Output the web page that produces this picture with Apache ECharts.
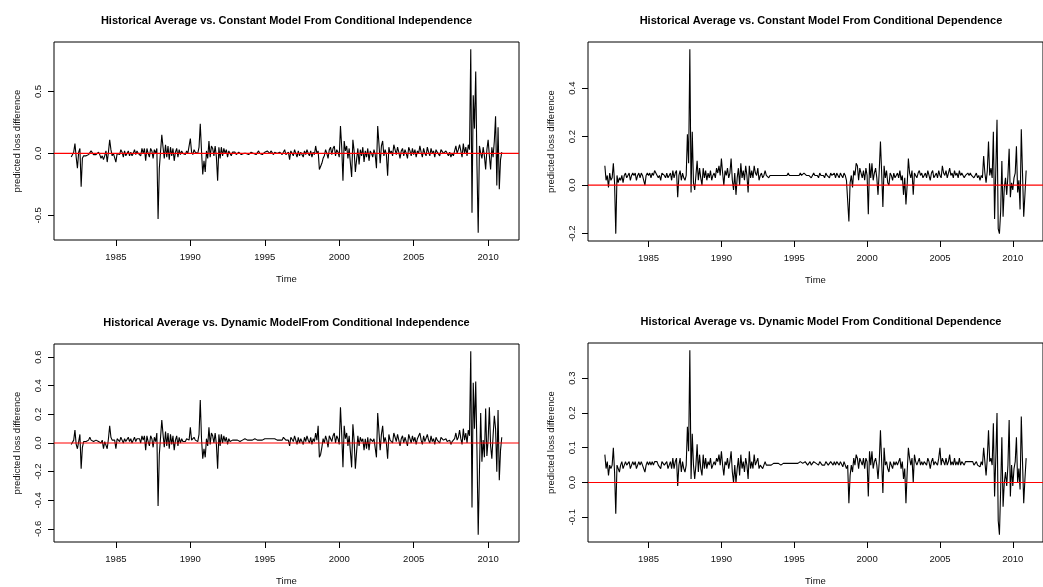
<!DOCTYPE html>
<html>
<head>
<meta charset="utf-8">
<script src="https://cdn.jsdelivr.net/npm/echarts@6/dist/echarts.min.js"></script>
<style>
html,body{margin:0;padding:0;background:#fff;}
#chart{width:1043px;height:587px;}
</style>
</head>
<body>
<div id="chart"></div>
<script>
// Monthly series, Jan 1982 .. Dec 2010 (one row per year)
const startYear = 1982;
const titles = [
  "Historical Average vs. Constant Model From Conditional Independence",
  "Historical Average vs. Constant Model From Conditional Dependence",
  "Historical Average vs. Dynamic ModelFrom Conditional Independence",
  "Historical Average vs. Dynamic Model From Conditional Dependence"
];
const xTicks = [1985, 1990, 1995, 2000, 2005, 2010];
const yTicks1 = [-0.5, 0, 0.5];
const yTicks2 = [-0.2, 0, 0.2, 0.4];
const yTicks3 = [-0.6, -0.4, -0.2, 0, 0.2, 0.4, 0.6];
const yTicks4 = [-0.1, 0, 0.1, 0.2, 0.3];
const refLevel = 0;
const xName = "Time";
const yName = "predicted loss difference";

const constIndep = [
  -0.03,-0.04,0.01,0.08,-0.03,-0.12,0.01,0.04,-0.27,-0.04,-0.02,-0.03,
  -0.02,-0.02,-0.01,0.00,0.02,0.03,-0.01,0.00,-0.01,-0.02,0.01,-0.01,
  -0.04,-0.02,-0.05,-0.02,0.02,-0.07,0.01,0.11,0.03,-0.02,0.00,-0.01,
  -0.07,0.00,0.01,-0.01,0.03,0.01,-0.03,0.02,-0.02,0.00,0.02,-0.02,
  0.01,-0.02,0.00,0.03,-0.01,0.02,0.00,0.01,-0.02,0.04,0.00,0.04,
  -0.06,0.04,0.00,-0.03,0.04,0.02,-0.04,0.03,0.00,0.04,-0.53,-0.12,
  -0.12,0.15,0.05,-0.04,0.07,-0.03,0.06,-0.05,0.05,-0.02,0.04,-0.06,
  0.01,0.04,-0.03,0.03,-0.01,0.02,0.00,0.01,-0.01,0.02,0.00,0.01,
  0.12,0.01,-0.01,0.03,0.01,0.02,0.00,0.05,0.24,0.02,-0.17,-0.06,
  -0.15,0.02,-0.04,0.10,-0.03,0.06,0.04,-0.02,0.06,-0.03,-0.22,0.05,
  -0.04,0.05,-0.02,0.04,0.00,0.03,-0.03,0.02,0.00,-0.02,0.01,0.00,
  0.01,-0.01,0.00,0.01,0.00,-0.01,0.00,0.00,0.01,0.00,0.00,-0.01,
  0.00,0.01,0.00,0.00,0.01,-0.01,0.00,0.02,0.00,0.00,-0.01,0.00,
  0.01,0.00,0.02,0.01,0.00,0.02,0.01,-0.01,0.01,0.02,0.00,-0.01,
  0.01,0.02,-0.01,0.00,0.03,-0.01,-0.01,0.01,-0.05,0.02,0.03,-0.02,
  0.03,0.00,-0.03,0.02,-0.02,0.01,0.00,-0.03,0.02,-0.01,0.03,0.00,
  -0.02,0.02,-0.03,0.01,-0.01,0.06,0.00,0.02,-0.13,-0.12,-0.08,-0.04,
  -0.02,0.03,0.00,-0.04,0.03,0.05,-0.01,0.04,0.06,-0.02,0.03,0.01,
  -0.03,0.22,0.05,-0.22,0.10,0.02,0.06,-0.04,0.04,-0.08,-0.19,0.11,
  0.02,-0.15,-0.05,0.04,-0.09,0.03,-0.02,0.05,-0.07,0.02,-0.03,0.04,
  -0.06,0.02,0.00,-0.03,0.03,-0.01,-0.12,0.22,0.08,-0.08,0.06,0.10,
  -0.02,0.03,-0.01,-0.18,0.05,0.00,0.02,-0.02,0.07,0.03,-0.01,0.05,
  0.01,-0.04,0.02,0.04,-0.02,0.03,0.00,-0.04,0.05,0.02,-0.02,0.04,
  -0.01,0.03,-0.03,0.02,0.00,0.06,0.01,-0.03,0.04,0.00,-0.02,0.05,
  0.01,-0.02,0.04,0.00,0.02,-0.03,0.03,0.01,0.00,-0.02,0.03,0.04,
  0.00,-0.01,0.02,0.00,-0.02,0.01,-0.03,0.00,-0.02,0.02,0.06,0.00,
  0.03,0.07,0.02,-0.03,0.08,0.00,0.05,-0.02,0.07,0.03,0.84,-0.48,
  0.47,0.20,0.66,-0.10,-0.64,0.06,0.00,-0.04,0.05,-0.02,-0.13,0.03,
  0.11,-0.02,-0.13,0.05,-0.03,0.10,0.30,-0.26,0.21,-0.29,-0.05,0.01
];

const constDep = [
  0.08,0.02,0.04,-0.01,0.05,0.02,0.03,0.09,0.01,-0.20,0.04,0.01,
  0.03,0.02,0.04,0.01,0.04,0.05,0.03,0.04,0.05,0.02,0.04,0.05,
  0.04,0.05,0.02,0.04,0.05,0.03,0.05,0.04,0.02,0.00,0.04,0.05,
  0.04,0.05,0.03,0.05,0.04,0.06,0.05,0.05,0.03,0.04,0.02,0.05,
  0.05,0.04,0.03,0.05,0.03,0.04,0.05,0.02,0.06,0.03,0.05,0.06,
  -0.05,0.04,0.06,0.02,0.05,0.03,0.02,0.04,0.21,0.09,0.56,-0.03,
  0.22,0.01,-0.02,0.04,0.10,0.02,0.07,0.03,0.00,0.07,0.03,0.06,
  0.02,0.05,0.03,0.06,0.02,0.04,0.05,0.03,0.07,0.05,0.08,0.04,
  0.11,0.05,0.00,0.06,0.04,0.07,0.03,0.05,0.11,0.02,-0.02,0.05,
  -0.04,0.03,0.07,0.00,0.09,0.03,0.06,0.02,0.08,0.04,-0.03,0.08,
  0.03,0.06,0.03,0.08,0.05,0.04,0.07,0.02,0.04,0.05,0.03,0.04,
  0.06,0.04,0.04,0.03,0.04,0.04,0.04,0.04,0.04,0.04,0.04,0.04,
  0.04,0.04,0.04,0.04,0.04,0.04,0.04,0.05,0.04,0.04,0.04,0.04,
  0.04,0.04,0.04,0.04,0.04,0.05,0.04,0.04,0.05,0.05,0.04,0.04,
  0.04,0.04,0.03,0.04,0.05,0.04,0.04,0.04,0.03,0.05,0.04,0.04,
  0.04,0.03,0.05,0.04,0.04,0.03,0.05,0.04,0.04,0.05,0.03,0.05,
  0.04,0.03,0.05,0.04,0.03,0.05,0.04,0.02,0.02,-0.15,0.01,0.04,
  -0.01,0.06,0.04,0.09,0.08,0.02,0.07,0.05,0.03,0.06,0.02,0.07,
  0.04,-0.12,0.09,0.03,0.09,0.02,0.05,0.07,0.03,-0.04,0.06,0.18,
  0.05,-0.09,0.08,0.03,0.06,0.01,0.00,0.05,0.04,0.02,0.05,0.03,
  0.04,0.05,0.03,0.06,0.02,0.04,-0.04,0.03,-0.08,0.00,0.11,0.05,
  0.03,0.06,-0.04,0.05,0.04,0.03,0.05,0.06,0.04,0.05,0.03,0.04,
  0.05,0.03,0.06,0.04,0.02,0.05,0.06,0.03,0.04,0.05,0.03,0.06,
  0.04,0.03,0.08,0.05,0.04,0.06,0.03,0.05,0.07,0.04,0.05,0.03,
  0.06,0.04,0.05,0.03,0.06,0.04,0.05,0.04,0.03,0.04,0.04,0.05,
  0.04,0.05,0.04,0.04,0.03,0.04,0.05,0.03,0.04,0.02,0.04,0.03,
  0.12,0.05,0.01,0.06,0.18,0.04,0.07,0.03,0.22,-0.14,0.06,0.27,
  -0.18,-0.20,-0.11,0.10,-0.13,-0.01,0.03,-0.04,0.04,0.15,-0.05,0.01,
  -0.02,0.03,0.05,0.16,-0.03,0.02,-0.10,0.23,0.05,-0.13,-0.04,0.06
];

const dynIndep = [
  -0.01,-0.02,0.02,0.09,-0.01,-0.04,0.01,0.06,-0.18,-0.03,0.01,0.00,
  0.01,0.00,0.02,0.04,0.02,0.02,0.01,0.00,0.02,0.03,0.01,0.02,
  0.00,0.02,-0.04,0.01,0.02,-0.04,0.03,0.12,0.04,0.02,0.01,0.02,
  -0.04,0.03,0.02,0.01,0.04,0.02,0.00,0.03,0.01,0.02,0.04,0.01,
  0.03,0.00,0.02,0.04,0.01,0.03,0.02,0.03,0.00,0.05,0.02,0.05,
  -0.05,0.05,0.01,-0.02,0.05,0.03,-0.03,0.04,0.01,0.07,-0.44,-0.08,
  -0.07,0.16,0.06,-0.03,0.08,-0.02,0.07,-0.04,0.06,-0.01,0.05,-0.05,
  0.02,0.05,-0.02,0.04,0.00,0.03,0.01,0.02,0.01,0.03,0.02,0.02,
  0.11,0.02,0.01,0.04,0.02,0.03,0.01,0.06,0.30,0.03,-0.11,-0.04,
  -0.10,0.03,-0.02,0.11,-0.01,0.07,0.05,0.00,0.07,-0.01,-0.18,0.06,
  -0.02,0.06,0.00,0.05,0.01,0.04,-0.01,0.03,0.01,0.00,0.02,0.01,
  0.02,0.01,0.02,0.02,0.01,0.02,0.02,0.02,0.03,0.02,0.02,0.02,
  0.02,0.02,0.02,0.02,0.03,0.02,0.02,0.02,0.02,0.02,0.02,0.02,
  0.03,0.02,0.03,0.02,0.03,0.04,0.03,0.02,0.03,0.04,0.02,0.03,
  0.02,0.03,0.02,0.04,0.03,0.02,0.01,0.02,-0.02,0.04,0.05,0.01,
  0.05,0.02,-0.01,0.04,0.00,0.03,0.02,-0.01,0.04,0.01,0.05,0.02,
  0.00,0.04,-0.01,0.03,0.01,0.07,0.02,0.12,-0.10,-0.08,-0.03,0.03,
  0.00,0.05,0.02,-0.03,0.05,0.06,0.01,0.05,0.07,0.00,0.05,0.03,
  -0.01,0.25,0.06,-0.17,0.12,0.03,0.07,-0.02,0.05,-0.06,-0.17,0.13,
  0.02,-0.18,-0.06,0.05,-0.02,0.04,0.01,0.03,-0.05,0.03,-0.04,0.04,
  -0.05,0.03,0.02,0.01,0.03,0.02,-0.10,0.21,0.08,-0.05,0.06,0.12,
  0.00,0.04,0.00,-0.11,0.06,0.02,0.03,0.00,0.07,0.04,0.01,0.06,
  0.02,-0.02,0.03,0.05,0.00,0.04,0.01,-0.02,0.06,0.03,0.00,0.05,
  0.01,0.04,-0.01,0.03,0.02,0.07,0.02,-0.01,0.05,0.01,0.00,0.06,
  0.02,0.00,0.05,0.01,0.03,-0.01,0.04,0.02,0.02,0.00,0.04,0.05,
  0.02,0.01,0.03,0.01,0.00,0.02,-0.01,0.01,0.00,0.03,0.07,0.02,
  0.04,0.09,0.03,-0.01,0.10,0.02,0.07,0.00,0.09,0.05,0.64,-0.45,
  0.42,0.10,0.43,-0.05,-0.64,-0.20,0.21,-0.13,0.02,-0.10,0.24,-0.09,
  0.02,0.25,-0.02,-0.11,0.05,0.19,0.10,-0.20,0.23,-0.26,-0.05,0.04
];

const dynDep = [
  0.08,0.04,0.06,0.02,0.05,0.04,0.05,0.10,0.03,-0.09,0.05,0.04,
  0.03,0.05,0.06,0.04,0.05,0.06,0.05,0.05,0.06,0.04,0.05,0.06,
  0.05,0.06,0.04,0.05,0.06,0.05,0.06,0.05,0.04,0.03,0.05,0.06,
  0.05,0.06,0.05,0.06,0.05,0.06,0.06,0.06,0.05,0.05,0.04,0.06,
  0.06,0.05,0.05,0.06,0.04,0.05,0.06,0.04,0.07,0.04,0.06,0.07,
  -0.01,0.05,0.07,0.03,0.06,0.04,0.03,0.05,0.16,0.09,0.38,0.01,
  0.14,0.05,0.01,0.05,0.11,0.03,0.08,0.04,0.02,0.08,0.04,0.07,
  0.04,0.06,0.05,0.07,0.04,0.05,0.06,0.05,0.07,0.06,0.08,0.05,
  0.09,0.05,0.02,0.06,0.05,0.07,0.04,0.06,0.09,0.03,0.00,0.05,
  0.00,0.04,0.07,0.02,0.08,0.04,0.06,0.03,0.07,0.05,0.01,0.09,
  0.04,0.06,0.04,0.08,0.05,0.05,0.07,0.04,0.05,0.05,0.04,0.05,
  0.06,0.05,0.05,0.05,0.055,0.05,0.055,0.055,0.05,0.055,0.055,0.055,
  0.055,0.05,0.055,0.055,0.055,0.055,0.06,0.055,0.055,0.055,0.05,0.055,
  0.055,0.055,0.05,0.055,0.06,0.06,0.055,0.055,0.06,0.06,0.055,0.05,
  0.055,0.06,0.05,0.055,0.06,0.055,0.055,0.05,0.05,0.06,0.055,0.05,
  0.055,0.05,0.06,0.055,0.05,0.05,0.06,0.055,0.05,0.06,0.05,0.06,
  0.055,0.05,0.06,0.055,0.045,0.06,0.055,0.04,0.05,-0.06,0.02,0.05,
  0.03,0.07,0.05,0.08,0.07,0.04,0.07,0.06,0.05,0.07,0.04,0.07,
  0.06,-0.04,0.09,0.05,0.09,0.04,0.06,0.07,0.05,0.01,0.06,0.15,
  0.06,-0.03,0.10,0.05,0.06,0.04,0.03,0.06,0.05,0.04,0.06,0.05,
  0.06,0.05,0.05,0.07,0.04,0.06,0.01,0.04,-0.06,0.03,0.10,0.07,
  0.05,0.07,0.00,0.08,0.06,0.05,0.06,0.07,0.05,0.06,0.05,0.06,
  0.06,0.05,0.07,0.06,0.04,0.06,0.07,0.05,0.06,0.06,0.05,0.07,
  0.10,0.05,0.07,0.06,0.05,0.07,0.05,0.06,0.08,0.05,0.06,0.05,
  0.07,0.05,0.06,0.05,0.07,0.05,0.06,0.06,0.05,0.06,0.06,0.06,
  0.06,0.06,0.055,0.06,0.05,0.055,0.06,0.05,0.055,0.045,0.06,0.05,
  0.10,0.06,0.02,0.07,0.15,0.06,0.07,0.05,0.17,-0.04,0.07,0.20,
  -0.11,-0.15,-0.02,0.13,-0.07,0.00,0.03,-0.01,0.05,0.18,-0.04,0.05,
  -0.01,0.04,0.06,0.13,0.00,0.04,-0.02,0.19,0.06,-0.06,0.01,0.07
];

const seriesList = [constIndep, constDep, dynIndep, dynDep];
const yTickList = [yTicks1, yTicks2, yTicks3, yTicks4];
const grids = [
  {left: 54, top: 42, width: 465, height: 198},
  {left: 588, top: 42, width: 466, height: 199},
  {left: 54, top: 344, width: 465, height: 198},
  {left: 588, top: 343, width: 466, height: 199}
];
const FONT = "Liberation Sans, Arial, Helvetica, sans-serif";
const TXT = '#111';

const option = {
  animation: false,
  backgroundColor: '#fff',
  title: [], grid: [], xAxis: [], yAxis: [], series: []
};

seriesList.forEach((vals, k) => {
  const pts = vals.map((v, i) => [startYear + i / 12, v]);
  const x0 = startYear, x1 = startYear + (vals.length - 1) / 12;
  const xp = 0.04 * (x1 - x0);
  const xMin = x0 - xp, xMax = x1 + xp;
  const y0 = Math.min(...vals), y1 = Math.max(...vals);
  const yp = 0.04 * (y1 - y0);
  const g = grids[k];
  option.grid.push({
    left: g.left, top: g.top, width: g.width, height: g.height,
    show: true, borderColor: '#000', borderWidth: 1, backgroundColor: 'transparent'
  });
  option.title.push({
    text: titles[k],
    left: g.left + g.width / 2, top: g.top - 27,
    textAlign: 'center', padding: 0,
    textStyle: {fontFamily: FONT, fontSize: 11, fontWeight: 'bold', color: '#000'}
  });
  option.xAxis.push({
    type: 'value', gridIndex: k, min: xMin, max: xMax,
    name: xName, nameLocation: 'middle', nameGap: 34,
    nameTextStyle: {fontFamily: FONT, fontSize: 9.5, color: TXT},
    splitLine: {show: false},
    axisLine: {show: false, onZero: false},
    axisTick: {show: true, length: 6, inside: false, customValues: xTicks, lineStyle: {color: '#000'}},
    axisLabel: {customValues: xTicks, margin: 12, fontFamily: FONT, fontSize: 9.5, color: TXT,
      formatter: v => String(Math.round(v))}
  });
  option.yAxis.push({
    type: 'value', gridIndex: k, min: y0 - yp, max: y1 + yp,
    name: yName, nameLocation: 'middle', nameGap: 32, nameRotate: 90,
    nameTextStyle: {fontFamily: FONT, fontSize: 9.5, color: TXT},
    splitLine: {show: false},
    axisLine: {show: false, onZero: false},
    axisTick: {show: true, length: 6, inside: false, customValues: yTickList[k], lineStyle: {color: '#000'}},
    axisLabel: {customValues: yTickList[k], rotate: 90, margin: 11, fontFamily: FONT, fontSize: 9.5, color: TXT,
      formatter: v => (Math.abs(v) < 1e-9 ? 0 : v).toFixed(1)}
  });
  option.series.push({
    type: 'line', xAxisIndex: k, yAxisIndex: k, data: pts,
    showSymbol: false, symbol: 'none', silent: true,
    lineStyle: {color: '#000', width: 1.1},
    z: 2
  });
  option.series.push({
    type: 'line', xAxisIndex: k, yAxisIndex: k,
    data: [[xMin, refLevel], [xMax, refLevel]],
    showSymbol: false, symbol: 'none', silent: true,
    lineStyle: {color: '#ff0000', width: 1.2},
    z: 3
  });
});

const chart = echarts.init(document.getElementById('chart'), null, {renderer: 'canvas'});
chart.setOption(option);
</script>
</body>
</html>
